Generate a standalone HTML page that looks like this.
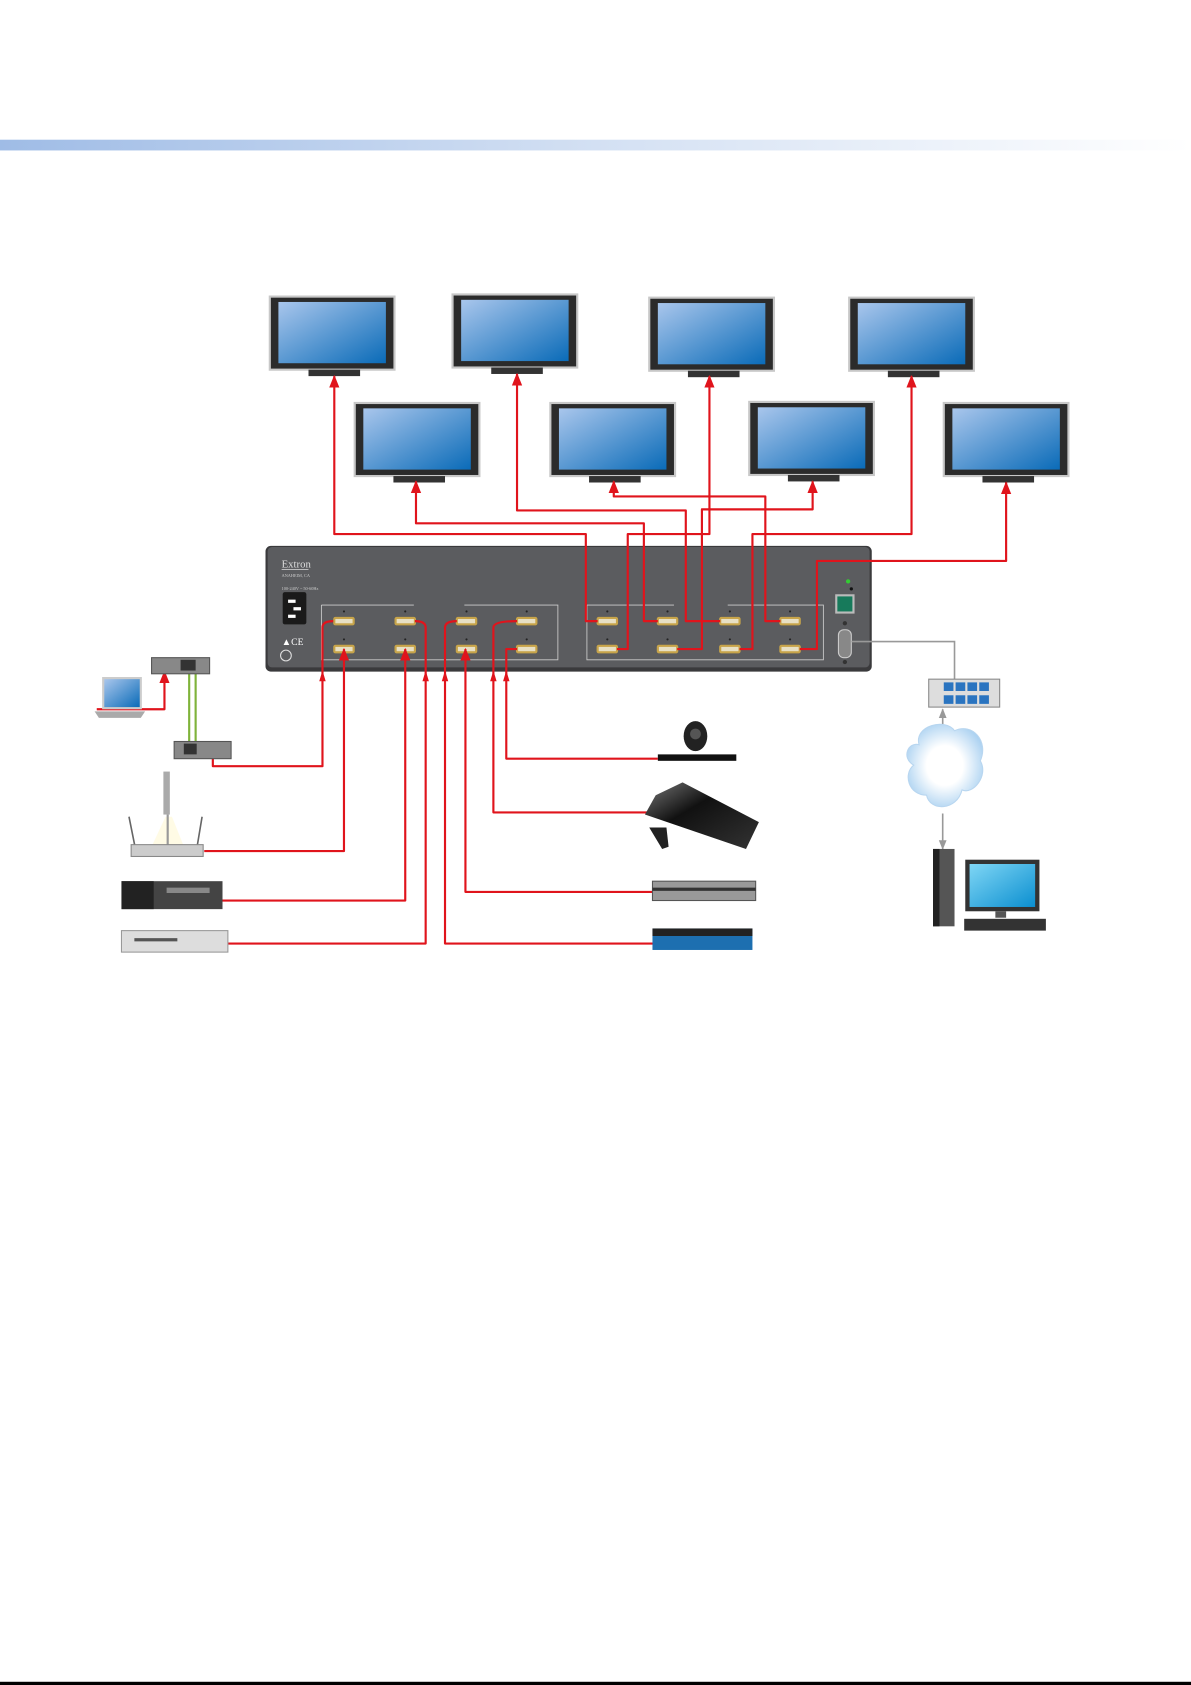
<!DOCTYPE html>
<html><head><meta charset="utf-8"><style>
html,body{margin:0;padding:0;background:#fff;}
svg{display:block;}
text{font-family:"Liberation Serif",serif;}
</style></head><body>
<svg width="1191" height="1685" viewBox="0 0 1108 1568" preserveAspectRatio="none" xmlns="http://www.w3.org/2000/svg">
<defs>
<linearGradient id="bar" x1="0" x2="1"><stop offset="0" stop-color="#9fbce6"/><stop offset="0.5" stop-color="#d3e0f3"/><stop offset="1" stop-color="#ffffff"/></linearGradient>
<linearGradient id="scr" x1="0" y1="0" x2="1" y2="1"><stop offset="0" stop-color="#a9c6ec"/><stop offset="1" stop-color="#0a6bb8"/></linearGradient>
<linearGradient id="mon" x1="0" y1="0" x2="1" y2="1"><stop offset="0" stop-color="#7fd6f5"/><stop offset="1" stop-color="#0b8fd0"/></linearGradient>
<radialGradient id="cloud" cx="0.5" cy="0.5" r="0.6"><stop offset="0.4" stop-color="#fff"/><stop offset="1" stop-color="#9fcbef"/></radialGradient>
<linearGradient id="ps" x1="0" y1="0" x2="1" y2="1"><stop offset="0" stop-color="#777"/><stop offset="0.4" stop-color="#111"/><stop offset="1" stop-color="#333"/></linearGradient>
<marker id="ar" viewBox="0 0 10 10" refX="9" refY="5" markerWidth="6" markerHeight="6" orient="auto-start-reverse"><path d="M0,1 L10,5 L0,9 z" fill="#e0141c"/></marker>
<marker id="ag" viewBox="0 0 10 10" refX="9" refY="5" markerWidth="6" markerHeight="6" orient="auto-start-reverse"><path d="M0,1 L10,5 L0,9 z" fill="#999"/></marker>
<g id="tv"><rect x="0" y="0" width="116" height="68" fill="#2b2b2b" stroke="#c8c8c8" stroke-width="2"/><rect x="8" y="5" width="100" height="57" fill="url(#scr)"/><rect x="36" y="68" width="48" height="6" fill="#333"/></g>
<g id="port"><rect x="-10" y="-4" width="20" height="8" rx="2" fill="#c7a44a"/><rect x="-8" y="-2" width="16" height="4" fill="#e8e0c4"/><circle cx="0" cy="-9" r="1" fill="#222"/></g>
</defs>
<rect x="0" y="130" width="1108" height="10" fill="url(#bar)"/>
<rect x="0" y="1565" width="1108" height="3" fill="#000"/>

<use href="#tv" x="251" y="276"/>
<use href="#tv" x="421" y="274"/>
<use href="#tv" x="604" y="277"/>
<use href="#tv" x="790" y="277"/>
<use href="#tv" x="330" y="375"/>
<use href="#tv" x="512" y="375"/>
<use href="#tv" x="697" y="374"/>
<use href="#tv" x="878" y="375"/>

<rect x="247" y="508" width="564" height="117" rx="5" fill="#3a3a3c"/>
<rect x="249" y="509" width="560" height="112" rx="4" fill="#5b5c5f"/>
<text x="262" y="528" font-size="10" fill="#ddd">Extron</text>
<line x1="262" y1="530" x2="287" y2="530" stroke="#ddd" stroke-width="0.7"/>
<text x="262" y="537" font-size="4" fill="#ccc" font-family="Liberation Sans">ANAHEIM, CA</text>
<text x="262" y="549" font-size="4" fill="#ccc" font-family="Liberation Sans">100-240V ~ 50-60Hz</text>
<rect x="263" y="551" width="22" height="30" rx="2" fill="#1a1a1a"/>
<rect x="268" y="558" width="7" height="3" fill="#fff"/><rect x="273" y="565" width="7" height="3" fill="#fff"/><rect x="268" y="572" width="7" height="3" fill="#fff"/>
<text x="262" y="600" font-size="9" fill="#fff" font-family="Liberation Sans">▲CE</text>
<circle cx="266" cy="610" r="5" fill="none" stroke="#ddd"/>
<path d="M299,563 H385 M432,563 H519 V614 H299 V563" fill="none" stroke="#ccc" stroke-width="0.8"/>
<path d="M546,563 H627 M677,563 H766 V614 H546 V563" fill="none" stroke="#ccc" stroke-width="0.8"/>
<use href="#port" x="320" y="578"/><use href="#port" x="377" y="578"/><use href="#port" x="434" y="578"/><use href="#port" x="490" y="578"/>
<use href="#port" x="320" y="604"/><use href="#port" x="377" y="604"/><use href="#port" x="434" y="604"/><use href="#port" x="490" y="604"/>
<use href="#port" x="565" y="578"/><use href="#port" x="621" y="578"/><use href="#port" x="679" y="578"/><use href="#port" x="735" y="578"/>
<use href="#port" x="565" y="604"/><use href="#port" x="621" y="604"/><use href="#port" x="679" y="604"/><use href="#port" x="735" y="604"/>
<circle cx="789" cy="541" r="2" fill="#3c3"/><circle cx="792" cy="548" r="1.5" fill="#111"/>
<rect x="777" y="553" width="18" height="18" fill="#bbb"/><rect x="779" y="555" width="14" height="14" fill="#177a5b"/>
<rect x="780" y="586" width="12" height="26" rx="5" fill="#888" stroke="#ccc"/>
<circle cx="786" cy="580" r="2" fill="#333"/><circle cx="786" cy="616" r="2" fill="#333"/>

<g fill="none" stroke="#e0141c" stroke-width="2" stroke-linejoin="round">
<path d="M556,578 H545 V497 H311 V350" marker-end="url(#ar)"/>
<path d="M612,578 H599 V487 H387 V448" marker-end="url(#ar)"/>
<path d="M670,578 H638 V475 H481 V348" marker-end="url(#ar)"/>
<path d="M726,578 H712 V462 H571 V448" marker-end="url(#ar)"/>
<path d="M574,604 H584 V497 H660 V350" marker-end="url(#ar)"/>
<path d="M630,604 H653 V474 H756 V448" marker-end="url(#ar)"/>
<path d="M688,604 H700 V497 H848 V350" marker-end="url(#ar)"/>
<path d="M744,604 H760 V522 H936 V449" marker-end="url(#ar)"/>
<path d="M198,702 V713 H300 V584 Q300,578 310,578"/>
<path d="M190,792 H320 V604" marker-end="url(#ar)"/>
<path d="M207,838 H377 V604" marker-end="url(#ar)"/>
<path d="M212,878 H396 V584 Q396,578 386,578" />
<path d="M608,878 H414 V584 Q414,578 425,578"/>
<path d="M608,830 H433 V604" marker-end="url(#ar)"/>
<path d="M608,756 H459 V584 Q459,578 481,578"/>
<path d="M612,706 H471 V604 H481"/>
<path d="M90,660 H153 V625" marker-end="url(#ar)"/>
</g>
<g fill="#e0141c">
<path d="M297,634 L300,624 L303,634z"/><path d="M393,634 L396,624 L399,634z"/><path d="M411,634 L414,624 L417,634z"/><path d="M456,634 L459,624 L462,634z"/><path d="M468,634 L471,624 L474,634z"/>
</g>
<path d="M176,626 V690 M182,626 V690" stroke="#7fb33a" stroke-width="2"/>

<rect x="141" y="612" width="54" height="15" fill="#888" stroke="#555"/><rect x="168" y="614" width="14" height="10" fill="#333"/>
<rect x="162" y="690" width="53" height="16" fill="#888" stroke="#555"/><rect x="171" y="692" width="12" height="10" fill="#333"/>
<rect x="95" y="630" width="37" height="30" fill="#ccc"/><rect x="97" y="632" width="33" height="26" fill="url(#scr)"/><path d="M88,662 H135 L131,668 H92z" fill="#aaa"/>
<path d="M154,760 L140,790 H172 L160,760z" fill="#fffbe5"/>
<rect x="152" y="718" width="6" height="40" fill="#aaa"/><rect x="155" y="758" width="2" height="32" fill="#999"/>
<path d="M120,760 L126,790 M188,760 L183,790" stroke="#666" stroke-width="1.5"/>
<rect x="122" y="786" width="67" height="11" fill="#ccc" stroke="#888"/>
<rect x="113" y="820" width="94" height="26" fill="#444"/><rect x="113" y="820" width="30" height="26" fill="#222"/><rect x="155" y="826" width="40" height="5" fill="#888"/>
<rect x="113" y="866" width="99" height="20" fill="#ddd" stroke="#999"/><rect x="125" y="873" width="40" height="3" fill="#555"/>

<rect x="612" y="702" width="73" height="6" fill="#111"/><ellipse cx="647" cy="685" rx="11" ry="14" fill="#222"/><circle cx="647" cy="683" r="5" fill="#555"/>
<path d="M635,728 L706,765 L694,790 L600,758 L610,740z" fill="url(#ps)"/><path d="M604,770 L620,770 L622,788 L616,790z" fill="#222"/>
<rect x="607" y="820" width="96" height="18" fill="#999" stroke="#555"/><rect x="607" y="826" width="96" height="3" fill="#333"/>
<rect x="607" y="864" width="93" height="20" fill="#1d6fb0"/><rect x="607" y="864" width="93" height="7" fill="#222"/>

<path d="M792,597 H888 V632" fill="none" stroke="#999" stroke-width="1.5"/>
<path d="M877,660 V678 M877,757 V790" stroke="#999" stroke-width="1.5" marker-start="url(#ag)" marker-end="url(#ag)"/>
<rect x="864" y="632" width="66" height="26" fill="#ddd" stroke="#888"/>
<g fill="#2a74c0"><rect x="878" y="635" width="9" height="8"/><rect x="889" y="635" width="9" height="8"/><rect x="900" y="635" width="9" height="8"/><rect x="911" y="635" width="9" height="8"/><rect x="878" y="647" width="9" height="8"/><rect x="889" y="647" width="9" height="8"/><rect x="900" y="647" width="9" height="8"/><rect x="911" y="647" width="9" height="8"/></g>
<path d="M855,693 C850,675 880,668 888,680 C905,672 920,690 912,708 C920,722 905,740 895,735 C890,755 865,755 862,740 C845,740 840,720 850,712 C838,705 845,690 855,693z" fill="url(#cloud)" stroke="#b8d6f0"/>
<rect x="868" y="790" width="20" height="72" fill="#555"/><rect x="868" y="790" width="6" height="72" fill="#222"/>
<rect x="898" y="800" width="69" height="48" fill="#333"/><rect x="902" y="804" width="61" height="40" fill="url(#mon)"/>
<rect x="926" y="848" width="10" height="6" fill="#555"/><rect x="897" y="855" width="76" height="11" fill="#333"/>
</svg>
</body></html>
